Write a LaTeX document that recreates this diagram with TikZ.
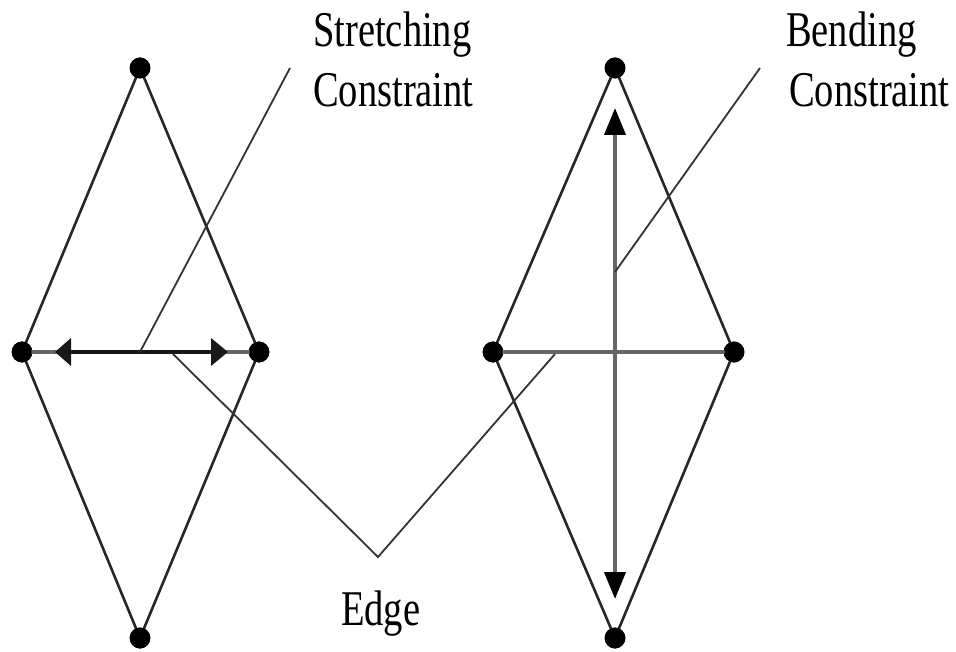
\documentclass[tikz,border=0pt]{standalone}
\usepackage{fontspec}
\setmainfont{Liberation Serif}
\usetikzlibrary{arrows.meta}
\tikzset{
  dot/.style={circle,fill=black,inner sep=0pt,minimum width=19pt,minimum height=21pt},
  rim/.style={draw=black!85,line width=2.6pt},
  pointer/.style={draw=black!80,line width=1.8pt},
  edgeline/.style={draw=black!60,line width=4pt},
  lbl/.style={inner sep=0pt,font=\fontsize{50}{60}\selectfont},
}
\newcommand{\sq}[1]{\scalebox{0.77}[1]{#1}}
\begin{document}
\begin{tikzpicture}[x=1pt,y=-1pt]
\useasboundingbox (0,0) rectangle (956,652);
% left diamond
\node[dot] (lt) at (140,68) {};
\node[dot] (ll) at (22,352) {};
\node[dot] (lr) at (259,352) {};
\node[dot] (lb) at (140,638) {};
% right diamond
\node[dot] (rt) at (615,68) {};
\node[dot] (rl) at (493,352) {};
\node[dot] (rr) at (734,352) {};
\node[dot] (rb) at (615,638) {};
% rims
\draw[rim] (lt.center) -- (ll.center) -- (lb.center) -- (lr.center) -- cycle;
\draw[rim] (rt.center) -- (rl.center) -- (rb.center) -- (rr.center) -- cycle;
% edges (horizontal)
\draw[edgeline] (ll.center) -- (lr.center);
\draw[edgeline] (rl.center) -- (rr.center);
% stretching arrow
\coordinate (sa) at (55,352);
\coordinate (sb) at (228,352);
\draw[line width=4.5pt,black!90,{Triangle[length=16pt,width=27pt]}-{Triangle[length=17pt,width=27pt]}] (sa) -- (sb);
% bending arrow
\coordinate (ba) at (615,108);
\coordinate (bb) at (615,599);
\draw[edgeline,{Triangle[length=27pt,width=21pt,fill=black,color=black]}-{Triangle[length=27pt,width=21pt,fill=black,color=black]}] (ba) -- (bb);
% redraw dots on top
\foreach \n in {lt,ll,lr,lb,rt,rl,rr,rb} \fill (\n) ellipse (9.5pt and 10.5pt);
% pointers
\coordinate (sp1) at (140,352);
\coordinate (sp2) at (290,68);
\draw[pointer] (sp1) -- (sp2);
\coordinate (bp1) at (615,272);
\coordinate (bp2) at (760,68);
\draw[pointer] (bp1) -- (bp2);
\coordinate (ep1) at (173,354);
\coordinate (ev) at (378,557);
\coordinate (ep2) at (555,354);
\draw[pointer] (ep1) -- (ev) -- (ep2);
% labels
\node[lbl,anchor=base west] (s1) at (313,47) {\sq{Stretching}};
\node[lbl,anchor=base west] (s2) at (313,107) {\sq{Constraint}};
\node[lbl,anchor=base west] (b1) at (786,47) {\sq{Bending}};
\node[lbl,anchor=base west] (b2) at (789,107) {\sq{Constraint}};
\node[lbl,anchor=base west] (e1) at (341,625) {\sq{Edge}};
\end{tikzpicture}
\end{document}
